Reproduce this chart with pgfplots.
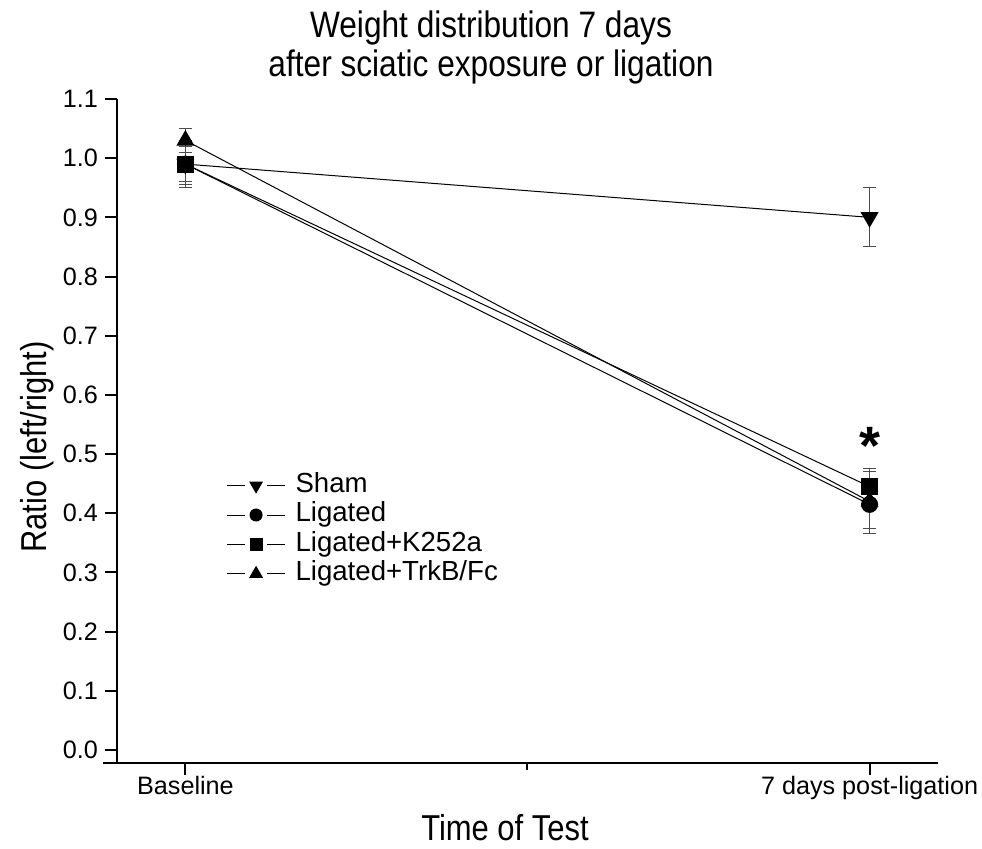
\documentclass[border=0pt]{standalone}
\usepackage{fontspec}
\setmainfont{Liberation Sans}
\newfontfamily\tallsans{Liberation Sans}[FakeStretch=0.86]
\usepackage{pgfplots}
\pgfplotsset{compat=1.18}

\begin{document}
\begin{tikzpicture}
\begin{axis}[
    at={(0,0)}, anchor=south west,
    scale only axis,
    width=410.5pt, height=332pt,
    xmin=-0.1, xmax=1.1,
    ymin=-0.022, ymax=1.1,
    axis x line*=bottom, axis y line*=left,
    axis line style={line width=1pt},
    tick align=outside,
    major tick length=6pt, minor tick length=3.5pt,
    tick style={line width=1pt, black},
    xtick={0,1},
    xticklabels={Baseline,7 days post-ligation},
    minor xtick={0.5},
    ytick={0,0.1,0.2,0.3,0.4,0.5,0.6,0.7,0.8,0.9,1.0,1.1},
    /pgf/number format/assume math mode=true,
    yticklabel style={/pgf/number format/.cd, fixed, fixed zerofill, precision=1},
    ticklabel style={font=\fontsize{12.6}{14}\selectfont},
    xticklabel style={yshift=3pt},
    xlabel={Time of Test},
    ylabel={Ratio (left/right)},
    label style={font=\tallsans\fontsize{18}{20}\selectfont},
    xlabel style={at={(axis description cs:0.4726,-0.117)}, anchor=base},
    ylabel style={at={(axis description cs:-0.0860,0.476)}, anchor=base},
    error bars/error bar style={line width=0.5pt, black!70},
    error bars/error mark options={rotate=90, mark size=3.3pt, line width=0.5pt, black!70},
    legend style={at={(axis description cs:0.133,0.4405)}, anchor=north west,
        draw=none, fill=none, inner sep=0pt, row sep=0pt,
        font=\fontsize{13.8}{14.5}\selectfont,
        nodes={inner xsep=2pt, inner ysep=0pt, text height=10.7pt, text depth=4pt}},
    legend cell align=left,
    legend image code/.code={
        \draw[#1, mark=none] (0pt,0pt) -- (9pt,0pt);
        \draw[#1, mark=none] (20pt,0pt) -- (29pt,0pt);
        \draw[#1, every mark/.append style={scale=0.75}] plot coordinates {(14.5pt,0pt)};
        \path (32pt,0pt);},
    clip=false,
]
% Sham
\addplot[black, line width=0.5pt, mark=triangle*, mark options={rotate=180, mark size=4.7pt},
    error bars/.cd, y dir=both, y explicit]
    coordinates {(0,0.99) +- (0,0.035) (1,0.90) +- (0,0.05)};
\addlegendentry{Sham}
% Ligated
\addplot[black, line width=0.5pt, mark=*, mark options={mark size=4pt},
    error bars/.cd, y dir=both, y explicit]
    coordinates {(0,0.99) +- (0,0.04) (1,0.415) +- (0,0.04)};
\addlegendentry{Ligated}
% Ligated+K252a
\addplot[black, line width=0.5pt, mark=square*, mark options={mark size=4pt},
    error bars/.cd, y dir=both, y explicit]
    coordinates {(0,0.99) +- (0,0.03) (1,0.445) +- (0,0.025)};
\addlegendentry{Ligated+K252a}
% Ligated+TrkB/Fc
\addplot[black, line width=0.5pt, mark=triangle*, mark options={mark size=4.7pt},
    error bars/.cd, y dir=both, y explicit]
    coordinates {(0,1.03) +- (0,0.02) (1,0.42) +- (0,0.055)};
\addlegendentry{Ligated+TrkB/Fc}

\draw[line width=1pt] (axis cs:-0.12,-0.022) -- (axis cs:-0.1,-0.022);
\node[anchor=base, font=\fontsize{27}{27}\bfseries\selectfont] at (axis cs:1,0.482) {*};
\end{axis}
\node[anchor=base, font=\tallsans\fontsize{18.4}{20}\selectfont] at (187pt,362.5pt) {Weight distribution 7 days};
\node[anchor=base, font=\tallsans\fontsize{18.4}{20}\selectfont] at (187pt,343pt) {after sciatic exposure or ligation};
\pgfresetboundingbox
\path (-58.5pt,-42.5pt) rectangle (432.5pt,381.5pt);
\end{tikzpicture}
\end{document}
